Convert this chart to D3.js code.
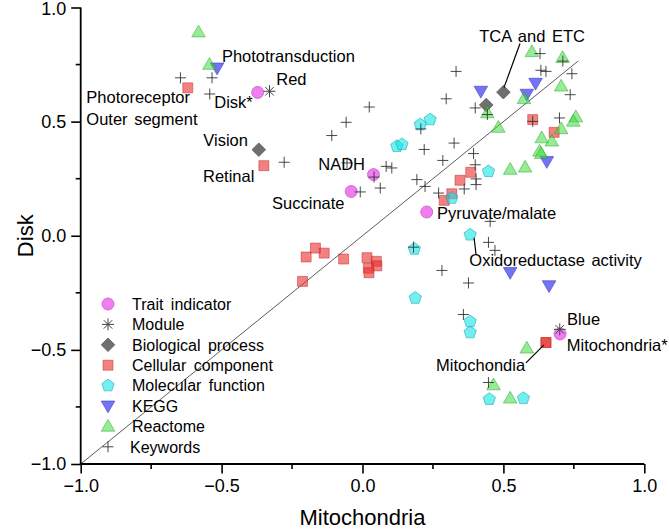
<!DOCTYPE html>
<html><head><meta charset="utf-8">
<script src="https://cdn.jsdelivr.net/npm/d3@7"></script>
<style>
body{margin:0;background:#fff;}
text{font-family:Arial,"Liberation Sans",sans-serif;fill:#000;}
</style></head>
<body><svg id="c" width="669" height="530"></svg>
<script>
// ---- data (Mitochondria, Disk) ----
const traitIndicator = [[-0.372,0.628],[0.039,0.268],[-0.040,0.194],[0.228,0.104],[0.701,-0.43]];
const moduleEig = [[-0.33,0.633],[0.70,-0.41]];
const biologicalProcess = [[-0.368,0.377],[0.50,0.629],[0.439,0.573]];
const cellularComponent = [[-0.62,0.648],[-0.35,0.307],[0.651,-0.468],[0.651,-0.468],[-0.20,-0.093],[-0.167,-0.054],
  [-0.136,-0.076],[-0.067,-0.102],[0.016,-0.096],[0.049,-0.112],[0.051,-0.132],[0.021,-0.142],[0.023,-0.162],
  [-0.213,-0.2],[0.384,0.278],[0.346,0.243],[0.317,0.184],[0.29,0.155],[0.604,0.509],[0.68,0.453]];
const molecularFunction = [[0.122,0.392],[0.14,0.4],[0.205,0.487],[0.24,0.509],[0.317,0.165],[0.447,0.282],
  [0.382,0.004],[0.184,-0.058],[0.187,-0.273],[0.382,-0.376],[0.382,-0.424],[0.45,-0.716],[0.571,-0.712]];
const kegg = [[-0.516,0.735],[0.42,0.633],[0.583,0.62],[0.614,0.668],[0.654,0.325],[0.524,-0.161],[0.662,-0.219]];
const reactome = [[-0.582,0.892],[-0.543,0.75],[0.601,0.806],[0.71,0.78],[0.705,0.655],[0.573,0.6],[0.443,0.538],
  [0.482,0.474],[0.757,0.52],[0.748,0.501],[0.705,0.468],[0.636,0.428],[0.672,0.414],[0.628,0.37],[0.634,0.36],
  [0.577,0.3],[0.524,0.29],[0.583,-0.493],[0.465,-0.654],[0.524,-0.712]];
const keywords = [[-0.646,0.692],[-0.534,0.692],[-0.542,0.621],[-0.278,0.322],[-0.109,0.439],[-0.058,0.497],
  [0.024,0.564],[-0.055,0.319],[0.332,0.72],[0.297,0.6],[0.207,0.468],[0.219,0.378],[0.325,0.406],[0.285,0.33],
  [0.63,0.798],[0.633,0.725],[0.651,0.72],[0.711,0.765],[0.743,0.71],[0.737,0.618],[0.40,0.56],[0.443,0.531],
  [0.699,0.516],[0.604,0.501],[0.394,0.36],[0.40,0.311],[0.084,0.304],[0.104,0.297],[0.041,0.257],[0.063,0.209],
  [-0.008,0.192],[0.193,0.246],[0.222,0.216],[0.27,0.187],[0.361,0.205],[0.403,0.249],[0.403,0.224],[0.453,0.063],
  [0.447,-0.029],[0.47,-0.064],[0.181,-0.05],[0.282,-0.152],[0.376,-0.207],[0.358,-0.345],[0.447,-0.643]];
const seriesNames = ["Trait indicator","Module","Biological process","Cellular component","Molecular function","KEGG","Reactome","Keywords"];
const tickValues = [-1.0,-0.5,0.0,0.5,1.0];
const minorTicks = [-0.75,-0.25,0.25,0.75];
const identityLine = [[-1,-1],[0.765,0.765]];
const labels = [
  {t:"Phototransduction",x:-0.499,y:0.763},{t:"Red",x:-0.306,y:0.662},
  {t:"Photoreceptor",x:-0.98,y:0.583},{t:"Outer segment",x:-0.98,y:0.487},
  {t:"Disk*",x:-0.526,y:0.561},{t:"Vision",x:-0.565,y:0.395},{t:"Retinal",x:-0.566,y:0.237},
  {t:"NADH",x:-0.157,y:0.289},{t:"Succinate",x:-0.321,y:0.118},{t:"Pyruvate/malate",x:0.264,y:0.075},
  {t:"Oxidoreductase activity",x:0.379,y:-0.132},{t:"TCA and ETC",x:0.414,y:0.851},
  {t:"Blue",x:0.726,y:-0.39},{t:"Mitochondria*",x:0.725,y:-0.504},{t:"Mitochondia",x:0.577,y:-0.592,end:true}];
const leaders = [[[0.559,0.842],[0.502,0.649]],[[0.396,-0.009],[0.403,-0.083]],[[0.580,-0.557],[0.644,-0.478]]];

// ---- drawing ----
const svg = d3.select("#c");
const x = d3.scaleLinear().domain([-1,1]).range([80.7,644.3]);
const y = d3.scaleLinear().domain([-1,1]).range([464,7.5]);

const shapes = {
  circle: () => { const r=6; return `M${r},0A${r},${r} 0 1,1 ${-r},0A${r},${r} 0 1,1 ${r},0Z`; },
  square: () => "M-5,-5H5V5H-5Z",
  diamond: () => "M0,-6.8L6.8,0L0,6.8L-6.8,0Z",
  pentagon: () => { const r=6.5; return "M"+d3.range(5).map(k=>{const a=-Math.PI/2+k*2*Math.PI/5;return [r*Math.cos(a),r*Math.sin(a)].join(",");}).join("L")+"Z"; },
  tdown: () => "M-6.8,-5L6.8,-5L0,6.8Z",
  tup: () => "M0,-7L6.8,4.8L-6.8,4.8Z",
  plus: () => "M-5.5,0H5.5M0,-5.5V5.5",
  star: () => { let p=""; for (let k=0;k<4;k++){const a=k*Math.PI/4;const dx=6*Math.cos(a),dy=6*Math.sin(a);p+=`M${-dx},${-dy}L${dx},${dy}`;} return p; }
};
const styles = [
  {shape:"circle", fill:"#f07ef0", stroke:"#c060c0", op:1},
  {shape:"star", fill:"none", stroke:"#444", op:1, sw:1},
  {shape:"diamond", fill:"#6f6f6f", stroke:"#5a5a5a", op:1},
  {shape:"square", fill:"rgb(235,45,45)", stroke:"rgb(190,40,40)", op:0.6},
  {shape:"pentagon", fill:"rgb(20,228,228)", stroke:"rgb(0,150,170)", op:0.6},
  {shape:"tdown", fill:"rgb(80,80,240)", stroke:"rgb(70,70,200)", op:0.8},
  {shape:"tup", fill:"rgb(60,220,60)", stroke:"rgb(30,150,30)", op:0.55},
  {shape:"plus", fill:"none", stroke:"#333", op:1, sw:0.9}
];
const allSeries = [traitIndicator,moduleEig,biologicalProcess,cellularComponent,molecularFunction,kegg,reactome,keywords];

// identity line
svg.append("line").attr("x1",x(identityLine[0][0])).attr("y1",y(identityLine[0][1]))
  .attr("x2",x(identityLine[1][0])).attr("y2",y(identityLine[1][1]))
  .attr("stroke","#333").attr("stroke-width",0.8);

// points
allSeries.forEach((data,i)=>{
  const st = styles[i];
  svg.append("g").selectAll("path").data(data).join("path")
    .attr("transform",d=>`translate(${x(d[0])},${y(d[1])})`)
    .attr("d",shapes[st.shape]())
    .attr("fill",st.fill).attr("fill-opacity",st.op)
    .attr("stroke",st.stroke).attr("stroke-opacity",st.op)
    .attr("stroke-width",st.sw||0.8);
});

// leaders
leaders.forEach(l=>{
  svg.append("line").attr("x1",x(l[0][0])).attr("y1",y(l[0][1])).attr("x2",x(l[1][0])).attr("y2",y(l[1][1]))
    .attr("stroke","#000").attr("stroke-width",1.2);
});
// labels
svg.append("g").selectAll("text").data(labels).join("text")
  .attr("x",d=>x(d.x)).attr("y",d=>y(d.y))
  .attr("text-anchor",d=>d.end?"end":"start")
  .attr("font-size",16.5).attr("word-spacing",2).text(d=>d.t);

// axes
const fmt = d3.format(".1f");
const xAxis = svg.append("g").attr("transform","translate(0,464)");
xAxis.call(d3.axisBottom(x).tickValues(tickValues).tickFormat(fmt).tickSize(9.5).tickPadding(6));
xAxis.append("g").selectAll("line").data(minorTicks).join("line")
  .attr("x1",d=>x(d)).attr("x2",d=>x(d)).attr("y1",0).attr("y2",5).attr("stroke","#000").attr("stroke-width",1.6);
const yAxis = svg.append("g").attr("transform","translate(80.7,0)");
yAxis.call(d3.axisLeft(y).tickValues(tickValues).tickFormat(fmt).tickSize(9.5).tickPadding(5));
yAxis.append("g").selectAll("line").data(minorTicks).join("line")
  .attr("y1",d=>y(d)).attr("y2",d=>y(d)).attr("x1",0).attr("x2",-5).attr("stroke","#000").attr("stroke-width",1.6);
[xAxis,yAxis].forEach(a=>{
  a.select(".domain").attr("stroke-width",1.8).attr("d", a===xAxis ? `M${x(-1)},0H${x(1)}` : `M0,${y(1)}V${y(-1)}`);
  a.selectAll(".tick line").attr("stroke-width",1.6);
  a.selectAll("text").attr("font-size",18).attr("font-family",'Arial,"Liberation Sans",sans-serif');
});
yAxis.selectAll(".tick text").filter(d=>d===1).attr("dy","0.4em");

svg.append("text").attr("x",x(0)).attr("y",525).attr("text-anchor","middle").attr("font-size",22).text("Mitochondria");
svg.append("text").attr("transform",`translate(33,${y(0)}) rotate(-90)`).attr("text-anchor","middle").attr("font-size",22).text("Disk");

// legend
const lg = svg.append("g");
seriesNames.forEach((n,i)=>{
  const cy = 304 + i*20.4, st = styles[i];
  lg.append("path").attr("transform",`translate(108,${cy})`).attr("d",shapes[st.shape]())
    .attr("fill",st.fill).attr("fill-opacity",st.op).attr("stroke",st.stroke).attr("stroke-opacity",st.op)
    .attr("stroke-width",st.sw||0.8);
  lg.append("text").attr("x",i===7?130:132).attr("y",cy+5.8).attr("font-size",16).attr("word-spacing",3).text(n);
});
</script></body></html>
